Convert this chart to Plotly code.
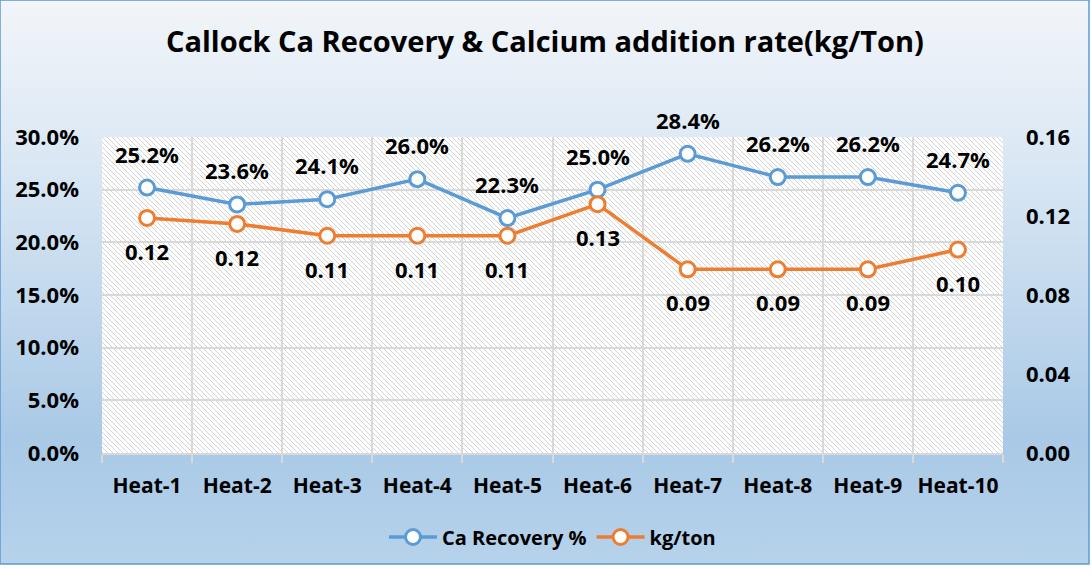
import base64
import plotly.graph_objects as go

# chart data
heats = ["Heat-1", "Heat-2", "Heat-3", "Heat-4", "Heat-5",
         "Heat-6", "Heat-7", "Heat-8", "Heat-9", "Heat-10"]
ca_recovery = [0.252, 0.236, 0.241, 0.260, 0.223, 0.250, 0.284, 0.262, 0.262, 0.247]
kg_per_ton = [0.119, 0.116, 0.110, 0.110, 0.110, 0.126, 0.093, 0.093, 0.093, 0.103]

W, H = 1092, 581
ML, MR, MT, MB = 102, 89, 137, 128
PW, PH = W - ML - MR, H - MT - MB
BLUE = "#5b9bd5"
ORANGE = "#ed7d31"
FONT = "Open Sans"


def svg_uri(svg):
    return "data:image/svg+xml;base64," + base64.b64encode(svg.encode()).decode()


# background gradient (chart area is 1089 x 564, white strip outside)
CW, CH = 1089, 564
grad_svg = f"""<svg xmlns='http://www.w3.org/2000/svg' width='{CW}' height='{CH}'>
<defs><linearGradient id='g' x1='0' y1='0' x2='0' y2='1'>
<stop offset='0' stop-color='#f2f5f9'/>
<stop offset='0.3' stop-color='#d9e7f4'/>
<stop offset='0.78' stop-color='#a9c9e6'/>
<stop offset='1' stop-color='#b6d2eb'/>
</linearGradient></defs>
<rect width='{CW}' height='{CH}' fill='url(#g)'/></svg>"""

# diagonal hatch for the plot area
hatch_svg = f"""<svg xmlns='http://www.w3.org/2000/svg' width='{PW}' height='{PH}'>
<defs><pattern id='p' patternUnits='userSpaceOnUse' width='5' height='5'>
<rect width='5' height='5' fill='white'/>
<path d='M0,0 L5,5 M-1,4 L1,6 M4,-1 L6,1' stroke='#d4d4d4' stroke-width='1'/>
</pattern></defs>
<rect width='{PW}' height='{PH}' fill='url(#p)'/></svg>"""

px_x = lambda p: (p - ML) / PW
px_y = lambda p: (H - MB - p) / PH

fig = go.Figure()

fig.add_trace(go.Scatter(
    x=heats, y=ca_recovery, name="Ca Recovery %", mode="lines+markers",
    line=dict(color=BLUE, width=3.5),
    marker=dict(size=15, color="white", line=dict(color=BLUE, width=3)),
))
fig.add_trace(go.Scatter(
    x=heats, y=kg_per_ton, name="kg/ton", mode="lines+markers", yaxis="y2",
    line=dict(color=ORANGE, width=3.5),
    marker=dict(size=15, color="white", line=dict(color=ORANGE, width=3)),
))

label_font = dict(family=FONT, size=22, color="black", weight="bold")
annotations = []
for h, v in zip(heats, ca_recovery):
    annotations.append(dict(x=h, y=v, xref="x", yref="y", text=f"{v:.1%}",
                            showarrow=False, yshift=34, font=label_font))
for h, v in zip(heats, kg_per_ton):
    annotations.append(dict(x=h, y=v, xref="x", yref="y2", text=f"{v:.2f}",
                            showarrow=False, yshift=-33, font=label_font))

tick_font = dict(family=FONT, size=22, color="black", weight="bold")

fig.update_layout(
    width=W, height=H,
    margin=dict(l=ML, r=MR, t=MT, b=MB),
    paper_bgcolor="white", plot_bgcolor="white",
    title=dict(text="Callock Ca Recovery & Calcium addition rate(kg/Ton)",
               x=0.499, xanchor="center", y=1 - 42 / H, yanchor="middle",
               font=dict(family=FONT, size=29, color="black", weight="bold")),
    xaxis=dict(type="category", range=[-0.5, 9.5], tickson="boundaries",
               showgrid=True, gridcolor="#d9d9d9", gridwidth=1.5,
               ticks="outside", ticklen=8, tickcolor="#d9d9d9", tickwidth=1.5,
               showline=True, linecolor="#d9d9d9", linewidth=1.5,
               tickfont=dict(family=FONT, size=21, color="black", weight="bold"),
               tickangle=0, ticklabelstandoff=13, automargin=False),
    yaxis=dict(range=[0, 0.30], dtick=0.05, tickformat=".1%",
               showgrid=True, gridcolor="#d9d9d9", gridwidth=1.5,
               zeroline=False, tickfont=tick_font, ticklabelstandoff=22,
               automargin=False),
    yaxis2=dict(range=[0, 0.16], dtick=0.04, tickformat=".2f", overlaying="y",
                side="right", showgrid=False, zeroline=False,
                tickfont=tick_font, ticklabelstandoff=22, automargin=False),
    legend=dict(orientation="h", x=0.5, xanchor="center", y=px_y(537), yanchor="middle",
                font=dict(family=FONT, size=20, color="black", weight="bold"),
                bgcolor="rgba(0,0,0,0)", itemwidth=48),
    annotations=annotations,
    images=[
        dict(source=svg_uri(grad_svg), xref="paper", yref="paper",
             x=px_x(0), y=px_y(0), sizex=CW / PW, sizey=CH / PH,
             xanchor="left", yanchor="top", sizing="stretch", layer="below"),
        dict(source=svg_uri(hatch_svg), xref="paper", yref="paper",
             x=0, y=1, sizex=1, sizey=1,
             xanchor="left", yanchor="top", sizing="stretch", layer="below"),
    ],
    shapes=[dict(type="rect", xref="paper", yref="paper",
                 x0=px_x(0), x1=px_x(CW), y0=px_y(CH), y1=px_y(0),
                 line=dict(color=BLUE, width=1.5), layer="above")],
)

# drop the page's default body margin so the figure sits at the top-left corner
fig.write_html("out.html", config={"displayModeBar": False},
               post_script="document.body.style.margin='0';")
